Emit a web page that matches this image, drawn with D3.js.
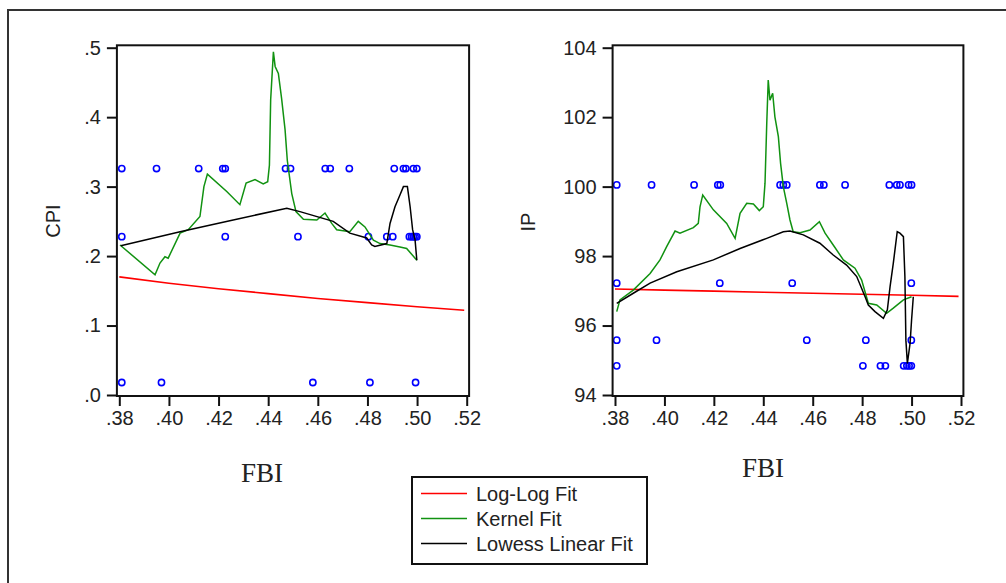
<!DOCTYPE html>
<html>
<head>
<meta charset="utf-8">
<script src="https://cdn.jsdelivr.net/npm/d3@7"></script>
<style>
  body { margin: 0; background: #ffffff; }
  svg { display: block; }
</style>
</head>
<body>
<div id="chart"></div>
<script>
// x ticks shared by both panels
const fbiTicks = [0.38, 0.40, 0.42, 0.44, 0.46, 0.48, 0.50, 0.52];
const cpiTicks = [0, 0.1, 0.2, 0.3, 0.4, 0.5];
const ipTicks = [94, 96, 98, 100, 102, 104];

// scatter: CPI vs FBI
const cpiFbi = [0.381, 0.395, 0.412, 0.4217, 0.4227, 0.447, 0.449, 0.463, 0.465, 0.4727, 0.4908, 0.4945, 0.4955, 0.4985, 0.4999,
    0.381, 0.4227, 0.452, 0.4804, 0.4878, 0.4902, 0.4969, 0.4978, 0.4985, 0.4992, 0.4999,
    0.381, 0.397, 0.458, 0.481, 0.4994];
const cpiVal = [0.326, 0.326, 0.326, 0.326, 0.326, 0.326, 0.326, 0.326, 0.326, 0.326, 0.326, 0.326, 0.326, 0.326, 0.326,
    0.228, 0.228, 0.228, 0.228, 0.228, 0.228, 0.228, 0.228, 0.228, 0.228, 0.228,
    0.018, 0.018, 0.018, 0.018, 0.018];

// scatter: IP vs FBI
const ipFbi = [0.3807, 0.3948, 0.4120, 0.4216, 0.4226, 0.4468, 0.4481, 0.4495, 0.4629, 0.4645, 0.4731, 0.4910, 0.4940, 0.4953, 0.4988, 0.5000,
    0.3807, 0.4224, 0.4517, 0.4999,
    0.3807, 0.3968, 0.4576, 0.4815, 0.4999,
    0.3807, 0.4803, 0.4874, 0.4894, 0.4968, 0.4981, 0.4990, 0.4999];
const ipVal = [100.05, 100.05, 100.05, 100.05, 100.05, 100.05, 100.05, 100.05, 100.05, 100.05, 100.05, 100.05, 100.05, 100.05, 100.05, 100.05,
    97.22, 97.22, 97.22, 97.22,
    95.58, 95.58, 95.58, 95.58, 95.58,
    94.84, 94.84, 94.84, 94.84, 94.84, 94.84, 94.84, 94.84];

// Log-Log fit
const logFitX = [0.38, 0.40, 0.42, 0.44, 0.46, 0.48, 0.50, 0.519];
const cpiLogFit = [0.170, 0.161, 0.153, 0.146, 0.139, 0.133, 0.127, 0.122];
const ipLogFit = [97.05, 97.02, 96.99, 96.96, 96.93, 96.90, 96.87, 96.84];

// Kernel fit, CPI
const cpiKernelX = [0.3803, 0.3944, 0.3964, 0.3984, 0.3997, 0.4045, 0.4078, 0.4125, 0.4141, 0.4155, 0.4233, 0.4286, 0.4311, 0.4347,
    0.4380, 0.4398, 0.4405, 0.4410, 0.4421, 0.4428, 0.4441, 0.4454, 0.4468, 0.4477, 0.4495, 0.4512, 0.4542, 0.4596,
    0.4629, 0.4656, 0.4676, 0.4729, 0.4763, 0.4790, 0.4824, 0.4851, 0.4891, 0.4931, 0.4958, 0.4999];
const cpiKernelY = [0.216, 0.173, 0.190, 0.199, 0.197, 0.233, 0.238, 0.257, 0.300, 0.318, 0.293, 0.274, 0.305, 0.310,
    0.304, 0.307, 0.331, 0.425, 0.494, 0.473, 0.463, 0.427, 0.382, 0.338, 0.290, 0.264, 0.253, 0.252,
    0.262, 0.247, 0.238, 0.235, 0.250, 0.242, 0.223, 0.218, 0.216, 0.213, 0.211, 0.194];

// Lowess fit, CPI
const cpiLowessX = [0.3806, 0.4045, 0.4259, 0.4475, 0.4528, 0.4662, 0.4729, 0.4797, 0.4817, 0.4830, 0.4878, 0.4891,
    0.4911, 0.4931, 0.4945, 0.4961, 0.4972, 0.4982, 0.4992, 0.4999];
const cpiLowessY = [0.215, 0.235, 0.252, 0.269, 0.264, 0.250, 0.233, 0.226, 0.216, 0.214, 0.218, 0.247,
    0.271, 0.288, 0.300, 0.300, 0.271, 0.238, 0.223, 0.194];

// Kernel fit, IP
const ipKernelX = [0.3807, 0.3820, 0.3874, 0.3942, 0.3982, 0.4009, 0.4043, 0.4063, 0.4117, 0.4137, 0.4144, 0.4155, 0.4198, 0.4252,
    0.4286, 0.4306, 0.4333, 0.4360, 0.4384, 0.4400, 0.4407, 0.4414, 0.4420, 0.4427, 0.4438, 0.4447, 0.4461, 0.4470,
    0.4481, 0.4495, 0.4508, 0.4521, 0.4549, 0.4589, 0.4627, 0.4650, 0.4683, 0.4724, 0.4771, 0.4798, 0.4825, 0.4859,
    0.4899, 0.4926, 0.4967, 0.5000];
const ipKernelY = [96.40, 96.74, 97.02, 97.50, 97.89, 98.27, 98.72, 98.66, 98.82, 98.94, 99.42, 99.76, 99.33, 98.94,
    98.51, 99.23, 99.52, 99.50, 99.31, 99.42, 100.10, 101.82, 103.07, 102.49, 102.69, 102.01, 101.44, 100.67,
    100.00, 99.52, 99.04, 98.70, 98.67, 98.75, 98.99, 98.66, 98.32, 97.89, 97.65, 97.31, 96.64, 96.59,
    96.35, 96.50, 96.74, 96.83];

// Lowess fit, IP
const ipLowessX = [0.3807, 0.3874, 0.3942, 0.4050, 0.4198, 0.4306, 0.4414, 0.4481, 0.4508, 0.4562, 0.4629, 0.4683, 0.4737,
    0.4778, 0.4812, 0.4825, 0.4852, 0.4886, 0.4902, 0.4913, 0.4926, 0.4942, 0.4953, 0.4967, 0.4973, 0.4977, 0.4983,
    0.4994, 0.5000, 0.5007];
const ipLowessY = [96.64, 96.93, 97.22, 97.55, 97.89, 98.22, 98.51, 98.70, 98.72, 98.61, 98.37, 98.03, 97.74,
    97.41, 96.83, 96.59, 96.40, 96.21, 96.45, 97.12, 97.79, 98.70, 98.66, 98.56, 97.41, 95.58, 94.91,
    95.49, 96.16, 96.83];

const legendLabels = ["Log-Log Fit", "Kernel Fit", "Lowess Linear Fit"];
const legendColors = ["#ff0000", "#119211", "#000000"];

const zip = (xs, ys) => xs.map((x, i) => [x, ys[i]]);

const svg = d3.select("#chart")
    .append("svg")
        .attr("width", 1006)
        .attr("height", 583);

// outer frame (only top and left edges show in the picture)
svg.append("rect")
    .attr("x", 8)
    .attr("y", 10)
    .attr("width", 1040)
    .attr("height", 600)
    .attr("fill", "none")
    .attr("stroke", "#333333")
    .attr("stroke-width", 2);

function drawPanel(opts) {
    const x = d3.scaleLinear()
        .domain([0.38, 0.52])
        .range([opts.left, opts.right]);
    const y = d3.scaleLinear()
        .domain(opts.yDomain)
        .range([395, 47.7]);

    const g = svg.append("g");
    const pad = 2.4;
    const fx0 = opts.left - pad, fx1 = opts.right + pad;
    const fy0 = 47.7 - pad, fy1 = 396;

    // series
    const line = d3.line()
        .x(d => x(d[0]))
        .y(d => y(d[1]));

    g.append("path")
        .datum(zip(logFitX, opts.logFit))
        .attr("d", line)
        .attr("fill", "none")
        .attr("stroke", legendColors[0])
        .attr("stroke-width", 1.6);

    g.selectAll(".pt")
        .data(zip(opts.sx, opts.sy))
        .join("circle")
            .attr("class", "pt")
            .attr("cx", d => x(d[0]))
            .attr("cy", d => y(d[1]))
            .attr("r", 3.1)
            .attr("fill", "none")
            .attr("stroke", "#0000ff")
            .attr("stroke-width", 1.6);

    g.append("path")
        .datum(zip(opts.kx, opts.ky))
        .attr("d", line)
        .attr("fill", "none")
        .attr("stroke", legendColors[1])
        .attr("stroke-width", 1.5);

    g.append("path")
        .datum(zip(opts.lx, opts.ly))
        .attr("d", line)
        .attr("fill", "none")
        .attr("stroke", legendColors[2])
        .attr("stroke-width", 1.5);

    // frame
    g.append("rect")
        .attr("x", fx0)
        .attr("y", fy0)
        .attr("width", fx1 - fx0)
        .attr("height", fy1 - fy0)
        .attr("fill", "none")
        .attr("stroke", "#111111")
        .attr("stroke-width", 2);

    // x axis
    const xAxis = g.append("g")
        .attr("transform", `translate(0,${fy1})`)
        .call(d3.axisBottom(x).tickValues(fbiTicks).tickSize(10).tickPadding(5)
            .tickFormat(d => d3.format(".2f")(d).replace(/^0/, "")));
    xAxis.select(".domain").remove();

    // y axis
    const yAxis = g.append("g")
        .attr("transform", `translate(${fx0},0)`)
        .call(d3.axisLeft(y).tickValues(opts.yTicks).tickSize(10).tickPadding(6)
            .tickFormat(opts.yFormat));
    yAxis.select(".domain").remove();

    g.selectAll(".tick line")
        .attr("stroke", "#111111")
        .attr("stroke-width", 2);
    g.selectAll(".tick text")
        .style("font-family", "Liberation Sans, Arial, sans-serif")
        .style("font-size", "20px")
        .attr("fill", "#222222");

    g.append("text")
        .attr("transform", `translate(${opts.yLabelX},${opts.yLabelY}) rotate(-90)`)
        .attr("text-anchor", "middle")
        .attr("dominant-baseline", "middle")
        .style("font-family", "Liberation Sans, Arial, sans-serif")
        .style("font-size", "20px")
        .attr("fill", "#222222")
        .text(opts.yLabel);

    g.append("text")
        .attr("x", opts.xLabelX)
        .attr("y", opts.xLabelY)
        .attr("text-anchor", "middle")
        .style("font-family", "Liberation Serif, Times New Roman, serif")
        .style("font-size", "27px")
        .attr("fill", "#222222")
        .text("FBI");
}

drawPanel({
    left: 119.3, right: 466.7,
    yDomain: [0, 0.5], yTicks: cpiTicks,
    yFormat: d => d3.format(".1f")(d).replace(/^0/, ""),
    sx: cpiFbi, sy: cpiVal, logFit: cpiLogFit,
    kx: cpiKernelX, ky: cpiKernelY, lx: cpiLowessX, ly: cpiLowessY,
    yLabel: "CPI", yLabelX: 55, yLabelY: 221,
    xLabelX: 262, xLabelY: 482
});

drawPanel({
    left: 615, right: 961,
    yDomain: [94, 104], yTicks: ipTicks,
    yFormat: d => d,
    sx: ipFbi, sy: ipVal, logFit: ipLogFit,
    kx: ipKernelX, ky: ipKernelY, lx: ipLowessX, ly: ipLowessY,
    yLabel: "IP", yLabelX: 530, yLabelY: 222,
    xLabelX: 763, xLabelY: 477
});

// legend
const legend = svg.append("g");
legend.append("rect")
    .attr("x", 412)
    .attr("y", 477)
    .attr("width", 235)
    .attr("height", 87)
    .attr("fill", "#ffffff")
    .attr("stroke", "#111111")
    .attr("stroke-width", 2);

legend.selectAll(".leg-line")
    .data(legendLabels)
    .join("line")
        .attr("class", "leg-line")
        .attr("x1", 421)
        .attr("x2", 467)
        .attr("y1", (d, i) => 493.5 + i * 25)
        .attr("y2", (d, i) => 493.5 + i * 25)
        .attr("stroke", (d, i) => legendColors[i])
        .attr("stroke-width", 1.6);

legend.selectAll(".leg-text")
    .data(legendLabels)
    .join("text")
        .attr("class", "leg-text")
        .attr("x", 476)
        .attr("y", (d, i) => 501 + i * 25)
        .style("font-family", "Liberation Sans, Arial, sans-serif")
        .style("font-size", "20px")
        .attr("fill", "#222222")
        .text(d => d);
</script>
</body>
</html>
